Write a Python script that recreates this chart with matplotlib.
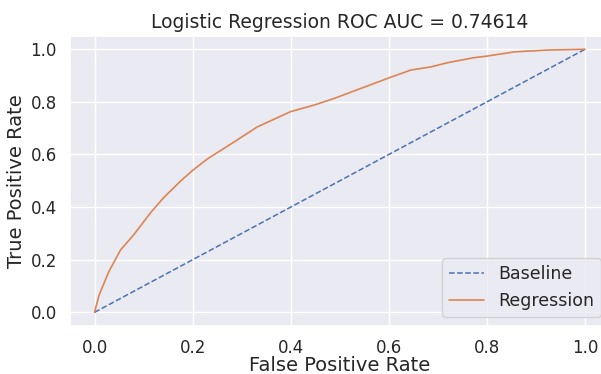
### ------------------------------ Imports ------------------------------ ###

import matplotlib
matplotlib.use("Agg")
import matplotlib.pyplot as plt
import seaborn as sns

### ------------------------------ Data ------------------------------ ###

auc_score = 0.74614

baseline_fpr = [0.0, 1.0]
baseline_tpr = [0.0, 1.0]

# ROC curve points for the logistic regression model
fpr = [0.0, 0.009, 0.029, 0.053, 0.080, 0.114, 0.141, 0.176, 0.199, 0.230,
       0.284, 0.332, 0.400, 0.448, 0.490, 0.550, 0.600, 0.645, 0.686, 0.720,
       0.774, 0.800, 0.856, 0.924, 1.0]
tpr = [0.0, 0.064, 0.154, 0.237, 0.295, 0.378, 0.436, 0.500, 0.538, 0.583,
       0.647, 0.705, 0.763, 0.788, 0.814, 0.856, 0.891, 0.921, 0.933, 0.949,
       0.968, 0.974, 0.990, 0.997, 1.0]

### ------------------------------ Plot ------------------------------ ###

sns.set_theme(style="darkgrid")
plt.rcParams['font.family'] = ['DejaVu Sans']

fig = plt.figure(figsize=(6.01, 3.74), dpi=100)
ax = fig.add_axes([70 / 601, 48.5 / 374, 539.5 / 601, 289.4 / 374])

ax.plot(baseline_fpr, baseline_tpr, linestyle='--', color='#4C72B0', lw=1.1, label='Baseline')
ax.plot(fpr, tpr, color='#DD8452', lw=1.2, label='Regression')

ax.set_xlabel('False Positive Rate', fontsize=14, labelpad=-0.5)
ax.set_ylabel('True Positive Rate', fontsize=14, labelpad=3)
ax.set_title(f'Logistic Regression ROC AUC = {auc_score}', fontsize=13.5, pad=6)
ax.tick_params(labelsize=12)
ax.legend(loc='lower right', fontsize=12.5)

fig.savefig('out.png', dpi=100)
